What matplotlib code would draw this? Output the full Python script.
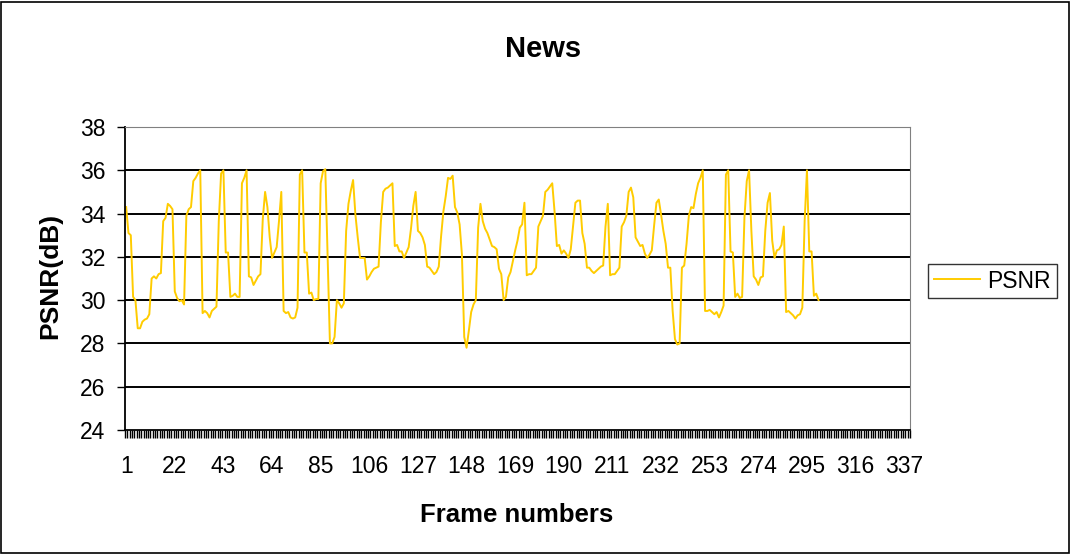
import numpy as np
import matplotlib
matplotlib.use("Agg")
import matplotlib.pyplot as plt
from matplotlib.patches import Rectangle

plt.rcParams['font.family'] = ['Liberation Sans', 'DejaVu Sans']

# PSNR per frame, frames 1..300
psnr = [
    34.3, 33.1, 33.0, 30.15, 30.0, 28.7, 28.7, 29.0, 29.1, 29.15,
    29.35, 31.0, 31.1, 31.0, 31.2, 31.25, 33.65, 33.8, 34.45, 34.35,
    34.2, 30.4, 30.1, 29.95, 30.0, 29.8, 33.9, 34.2, 34.3, 35.5,
    35.65, 35.85, 36.0, 29.4, 29.5, 29.4, 29.2, 29.5, 29.6, 29.7,
    33.65, 35.85, 36.0, 32.2, 32.2, 30.15, 30.2, 30.3, 30.15, 30.15,
    35.4, 35.65, 36.0, 31.1, 31.05, 30.7, 30.9, 31.1, 31.2, 33.75,
    35.0, 34.3, 32.9, 31.95, 32.2, 32.45, 33.65, 35.0, 29.5, 29.4,
    29.45, 29.2, 29.15, 29.2, 29.65, 35.8, 36.0, 32.2, 32.2, 30.3,
    30.35, 30.0, 30.05, 30.05, 35.4, 35.95, 36.05, 32.1, 28.0, 28.0,
    28.3, 30.0, 29.85, 29.65, 29.85, 33.2, 34.45, 35.05, 35.55, 33.95,
    32.9, 31.95, 31.95, 31.95, 30.95, 31.1, 31.3, 31.45, 31.5, 31.55,
    33.6, 35.0, 35.15, 35.2, 35.3, 35.4, 32.5, 32.55, 32.25, 32.25,
    31.95, 32.2, 32.45, 33.3, 34.35, 35.0, 33.2, 33.1, 32.9, 32.55,
    31.55, 31.5, 31.35, 31.2, 31.3, 31.55, 32.95, 34.1, 34.8, 35.65,
    35.6, 35.75, 34.3, 34.05, 33.5, 32.1, 28.3, 27.8, 28.6, 29.45,
    29.8, 30.0, 33.35, 34.45, 33.65, 33.3, 33.1, 32.8, 32.5, 32.45,
    32.35, 31.45, 31.2, 30.0, 30.15, 31.05, 31.3, 31.8, 32.3, 32.75,
    33.35, 33.5, 34.5, 31.15, 31.2, 31.2, 31.35, 31.5, 33.4, 33.65,
    33.9, 35.0, 35.1, 35.25, 35.4, 34.1, 32.5, 32.55, 32.15, 32.3,
    32.15, 31.95, 32.35, 33.4, 34.5, 34.6, 34.6, 33.1, 32.6, 31.5,
    31.5, 31.35, 31.25, 31.35, 31.45, 31.55, 31.6, 33.4, 34.45, 31.15,
    31.2, 31.2, 31.35, 31.5, 33.4, 33.6, 33.9, 35.0, 35.2, 34.75,
    32.9, 32.7, 32.5, 32.55, 32.15, 31.95, 32.1, 32.3, 33.45, 34.5,
    34.65, 33.95, 33.2, 32.6, 31.5, 31.5, 29.5, 28.2, 27.95, 28.0,
    31.5, 31.6, 32.6, 33.9, 34.3, 34.25, 34.9, 35.4, 35.65, 36.0,
    29.5, 29.5, 29.55, 29.45, 29.35, 29.45, 29.2, 29.45, 29.75, 35.8,
    36.0, 32.25, 32.2, 30.15, 30.3, 30.1, 30.15, 33.8, 35.5, 36.0,
    33.2, 31.1, 30.95, 30.7, 31.05, 31.1, 33.2, 34.5, 34.95, 32.75,
    31.95, 32.3, 32.35, 32.55, 33.4, 29.45, 29.5, 29.4, 29.3, 29.15,
    29.3, 29.35, 29.65, 33.65, 36.0, 32.25, 32.25, 30.2, 30.3, 30.0,
]
frames = np.arange(1, len(psnr) + 1)
n_categories = 339
x_labels = list(range(1, 338, 21))
y_ticks = [24, 26, 28, 30, 32, 34, 36, 38]

W, H = 1071, 554
fig = plt.figure(figsize=(W / 100, H / 100), dpi=100)
ax = fig.add_axes([125 / W, 1 - 430 / H, 785 / W, 303 / H])

ax.plot(frames, psnr, color='#FFCC00', lw=1.4, label='PSNR')

ax.set_xlim(0.5, n_categories + 0.5)
ax.set_ylim(24, 38)
ax.set_yticks(y_ticks)
ax.set_xticks(x_labels)
ax.set_xticks(np.arange(0.5, n_categories + 1, 1), minor=True)
ax.tick_params(axis='x', which='major', length=0, pad=18, labelsize=16.5)
ax.tick_params(axis='x', which='minor', length=5.5, width=1.0, direction='out', color='black')
ax.tick_params(axis='y', length=6, width=1, direction='out', labelsize=16.5, pad=8)

for y in y_ticks[1:-1]:
    ax.axhline(y, color='black', lw=1.4, zorder=0)

ax.spines['top'].set_color('#808080')
ax.spines['right'].set_color('#808080')
ax.spines['left'].set_linewidth(1.3)
ax.spines['bottom'].set_linewidth(1.3)

fig.text(543 / W, 1 - 57 / H, 'News', fontsize=21, fontweight='bold',
         ha='center', va='baseline')
fig.text(517 / W, 1 - 522 / H, 'Frame numbers', fontsize=18.5, fontweight='bold',
         ha='center', va='baseline')
fig.text(50 / W, 1 - 276 / H, 'PSNR(dB)', fontsize=19, fontweight='bold',
         ha='center', va='center', rotation=90)

leg = ax.legend(loc='center left', bbox_to_anchor=(928 / W, 1 - 281 / H),
                bbox_transform=fig.transFigure, frameon=True, fancybox=False,
                fontsize=16.5, handlelength=2.0, borderpad=0.25, handletextpad=0.35,
                borderaxespad=0)
leg.get_frame().set_edgecolor('black')
leg.get_frame().set_linewidth(1.0)

fig.patches.append(Rectangle((1 / W, 1 / H), (W - 3) / W, (H - 3) / H,
                             transform=fig.transFigure, fill=False,
                             edgecolor='black', lw=1.2))

fig.savefig('out.png', dpi=100)
